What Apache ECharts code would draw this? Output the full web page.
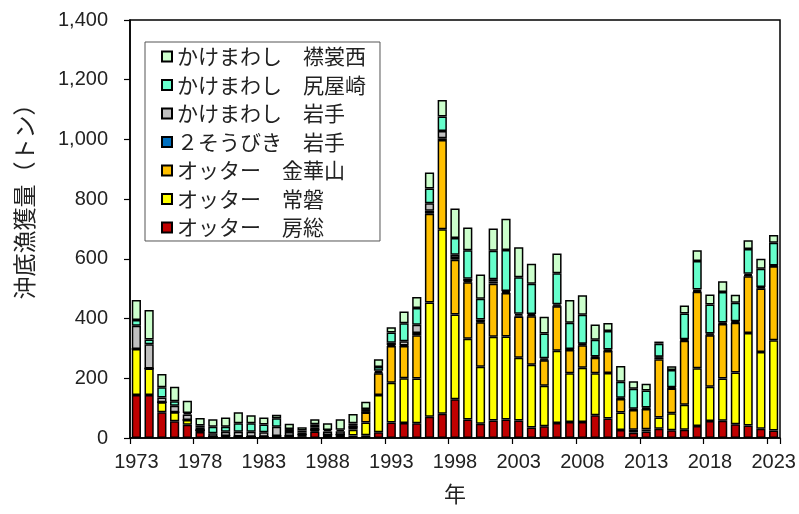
<!DOCTYPE html>
<html>
<head>
<meta charset="utf-8">
<script src="https://cdn.jsdelivr.net/npm/echarts@6/dist/echarts.min.js"></script>
<style>
html,body{margin:0;padding:0;background:#fff;}
#c{width:799px;height:514px;}
</style>
</head>
<body>
<div id="c"></div>
<script>
var years = [];
for (var y = 1973; y <= 2023; y++) years.push(String(y));

var seriesNames = [
  'オッター　房総',
  'オッター　常磐',
  'オッター　金華山',
  '２そうびき　岩手',
  'かけまわし　岩手',
  'かけまわし　尻屋崎',
  'かけまわし　襟裳西'
];
var seriesColors = ['#C00000', '#FFFF00', '#FFC000', '#0070C0', '#C0C0C0', '#66FFCC', '#CCFFCC'];

var bousou = [144,144,86,56,44,20,4,5,5,4,4,7,7,6,22,7,8,8,9,19,52,50,49,71,81,130,62,48,59,62,59,35,39,50,54,54,76,65,27,18,22,31,26,28,40,57,58,46,42,31,25];
var joban = [154,89,34,30,16,6,0,2,0,0,0,0,0,3,3,3,3,20,43,125,133,150,150,383,618,284,270,191,280,278,210,210,136,242,163,181,141,153,58,10,7,38,57,83,194,115,141,173,310,257,302];
var kinkazan = [0,0,0,0,0,0,0,0,0,0,0,0,0,2,2,0,0,10,33,73,123,108,145,297,299,183,190,149,178,146,138,163,85,149,78,76,52,73,46,66,68,195,83,215,256,172,183,167,190,213,248];
var nisouIwate = [0,0,0,0,0,0,0,0,0,0,0,0,0,0,0,0,0,0,1,3,3,2,8,10,6,6,3,2,7,3,4,3,3,2,1,2,1,2,1,1,2,6,1,2,3,2,2,2,3,2,1];
var kakeIwate = [78,81,16,22,19,10,12,14,16,17,15,31,13,8,9,12,12,3,2,5,8,14,27,25,24,11,8,7,8,3,5,4,4,5,2,3,3,3,3,3,3,2,3,3,4,4,3,3,5,3,2];
var shiriyazaki = [19,16,34,15,5,6,22,17,28,28,26,28,10,6,10,5,5,8,9,13,34,60,56,50,49,56,96,69,95,138,122,102,83,104,88,97,56,62,53,67,57,44,58,86,96,97,102,62,83,61,76];
var erimoNishi = [67,99,44,49,41,25,25,31,37,27,24,12,18,11,17,22,35,31,24,26,18,40,37,53,55,99,76,82,75,104,101,67,56,66,76,65,51,27,53,25,23,7,12,27,36,34,36,27,29,33,26];

var yTicks = [0, 200, 400, 600, 800, 1000, 1200, 1400];

var dataSets = [bousou, joban, kinkazan, nisouIwate, kakeIwate, shiriyazaki, erimoNishi];

var series = dataSets.map(function (d, i) {
  return {
    name: seriesNames[i],
    type: 'bar',
    stack: 'total',
    data: d,
    barWidth: 9.2,
    itemStyle: { color: seriesColors[i], borderColor: '#000', borderWidth: 1.5 },
    emphasis: { disabled: true }
  };
});

var chart = echarts.init(document.getElementById('c'), null, { renderer: 'canvas' });
chart.setOption({
  animation: false,
  backgroundColor: '#fff',
  grid: { left: 130, right: 19, top: 20, bottom: 76, show: true, borderColor: '#000', borderWidth: 1.5, backgroundColor: 'transparent' },
  legend: {
    orient: 'vertical',
    left: 145,
    top: 42,
    data: seriesNames.slice().reverse(),
    icon: 'rect',
    itemWidth: 10,
    itemHeight: 10,
    itemGap: 7.5,
    padding: [4, 14, 3, 16],
    borderColor: '#555',
    borderWidth: 1,
    backgroundColor: '#fff',
    selectedMode: false,
    textStyle: { fontSize: 21, fontFamily: '"Noto Sans CJK JP", sans-serif', color: '#222', lineHeight: 20.3 }
  },
  xAxis: {
    type: 'category',
    data: years,
    name: '年',
    nameLocation: 'middle',
    nameGap: 45,
    nameTextStyle: { fontSize: 22, fontFamily: '"Noto Sans CJK JP", sans-serif', color: '#222' },
    axisLine: { lineStyle: { color: '#000', width: 1.5 } },
    axisTick: { show: true, interval: 4, alignWithLabel: false, length: 6, lineStyle: { color: '#000', width: 1.2 } },
    axisLabel: { interval: 4, margin: 14, fontSize: 20, fontFamily: '"Liberation Sans", Arial, sans-serif', color: '#222' }
  },
  yAxis: {
    type: 'value',
    min: yTicks[0],
    max: yTicks[yTicks.length - 1],
    interval: 200,
    splitLine: { show: false },
    axisLine: { show: true, lineStyle: { color: '#000', width: 1.5 } },
    axisTick: { show: true, length: 6, lineStyle: { color: '#000', width: 1.2 } },
    axisLabel: {
      margin: 22,
      fontSize: 20,
      fontFamily: '"Liberation Sans", Arial, sans-serif',
      color: '#222',
      formatter: function (v) { return v.toLocaleString('en-US'); }
    }
  },
  graphic: [{
    type: 'text',
    x: 24,
    y: 196,
    rotation: Math.PI / 2,
    style: {
      text: '沖底漁獲量（トン）',
      font: '23px "Noto Sans CJK JP", sans-serif',
      fill: '#222',
      textAlign: 'center',
      textVerticalAlign: 'middle'
    }
  }],
  series: series
});
</script>
</body>
</html>
